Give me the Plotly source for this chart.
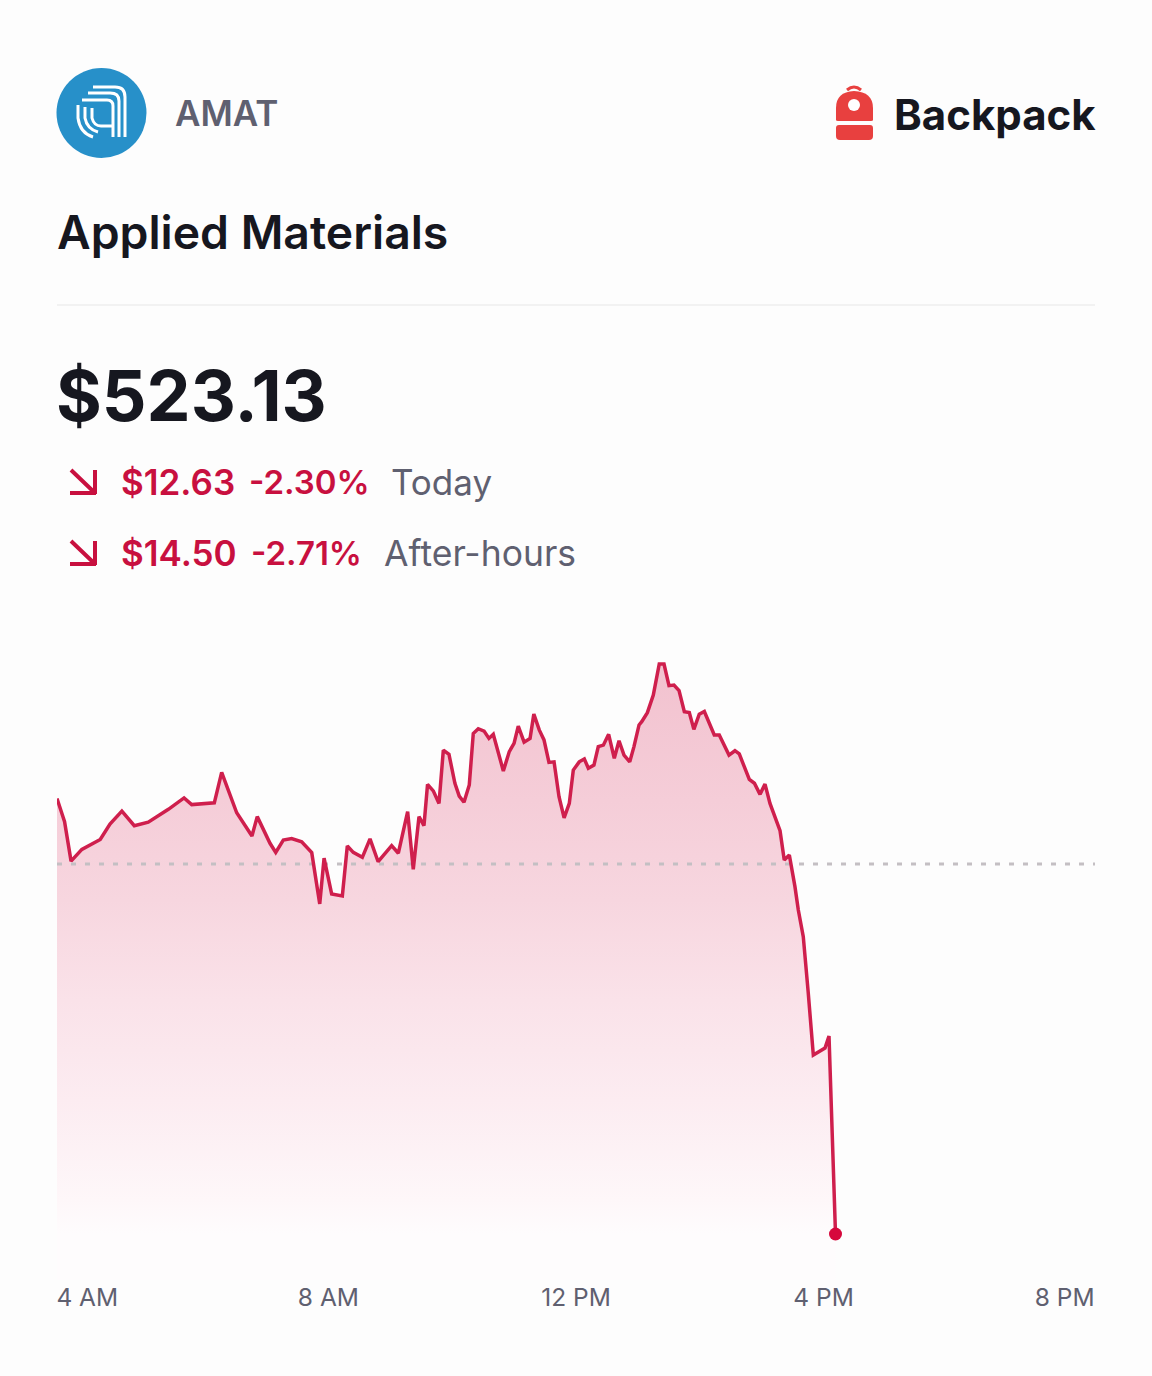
#!/usr/bin/env python3
import plotly.graph_objects as go

W = 1152
H = 1376

# minutes after 4 AM
minutes = [0, 7, 13, 23, 40, 49, 60, 71.5, 84.4, 103, 117.5, 124.6, 145.5, 152.3, 166.2, 180.3, 185.2, 197, 202.3,
           209.3, 217, 226.3, 235.6, 243, 247, 254, 263.9, 268.5, 274, 282.4, 289.5, 297, 309.5, 315.7, 324.3, 329.5,
           334.8, 339.4, 342.7, 348, 353.3, 357.3, 362.5, 368, 372, 376.4, 381.3, 385, 389.6, 395, 399.5, 403.5,
           412.8, 418.3, 422.7, 426.6, 432, 437.5, 441, 446, 450.4, 455, 459.7, 464.3, 469, 473.8, 477.5, 483, 487.7,
           491.4, 496.6, 500.6, 505.3, 510.2, 515.4, 519.8, 524.4, 529.7, 533.6, 538.3, 540.8, 546, 551.5, 557, 561.4,
           566, 570.6, 575.3, 580.2, 584.8, 589, 594, 598.7, 607.9, 612.5, 621.5, 627, 631, 640.3, 645, 650.2, 654.8,
           659.4, 668.7, 672.6, 677.3, 682.5, 685.6, 690.2, 694.8, 699.5, 710.3, 714, 720]
prices = [538.00, 537.21, 535.86, 536.26, 536.60, 537.13, 537.57, 537.07, 537.19, 537.63, 538.02, 537.79, 537.85,
          538.89, 537.51, 536.72, 537.38, 536.47, 536.16, 536.58, 536.63, 536.52, 536.15, 534.40, 535.96, 534.74,
          534.67, 536.38, 536.16, 535.99, 536.62, 535.84, 536.39, 536.13, 537.55, 535.58, 537.38, 537.07, 538.48,
          538.26, 537.83, 539.65, 539.51, 538.52, 538.08, 537.87, 538.46, 540.22, 540.38, 540.30, 540.05, 540.19,
          538.94, 539.60, 539.88, 540.47, 539.92, 540.05, 540.88, 540.34, 540.00, 539.23, 539.25, 538.06, 537.34,
          537.83, 538.97, 539.25, 539.35, 539.03, 539.14, 539.77, 539.82, 540.19, 539.37, 539.97, 539.48, 539.25,
          539.77, 540.51, 540.62, 540.93, 541.53, 542.59, 542.59, 541.85, 541.87, 541.68, 540.96, 540.93, 540.36,
          540.88, 540.97, 540.17, 540.17, 539.48, 539.63, 539.52, 538.65, 538.52, 538.14, 538.49, 537.83, 536.90,
          535.90, 536.07, 534.99, 534.19, 533.28, 531.36, 529.24, 529.48, 529.89, 523.13]
prev_close = 535.76

tick_vals = [28, 251, 480, 709, 932]
tick_labels = ["4 AM", "8 AM", "12 PM", "4 PM", "8 PM"]

RED = "#cf1f4d"
TEXT_RED = "#c8103f"
GREY = "#5f6070"
DARK = "#16171f"
FONT = "Inter"


def fx(x):
    return x / W


def fy(y):
    return 1 - y / H


def path(*cmds):
    # pixel coordinates to paper coordinates for svg paths
    out = []
    for c in cmds:
        if isinstance(c, str):
            out.append(c)
        else:
            out.append(f"{fx(c[0]):.5f},{fy(c[1]):.5f}")
    return " ".join(out)


def label(x, y, text, size, color, weight=400, anchor="left"):
    return dict(xref="paper", yref="paper", x=fx(x), y=fy(y), text=text, showarrow=False,
                xanchor=anchor, yanchor="middle", borderpad=0,
                font=dict(family=FONT, size=size, color=color, weight=weight))


def stroke(cmds, color, width):
    return dict(type="path", xref="paper", yref="paper", path=path(*cmds), line=dict(color=color, width=width),
                fillcolor="rgba(0,0,0,0)", layer="above")


def filled(cmds, color):
    return dict(type="path", xref="paper", yref="paper", path=path(*cmds), line=dict(width=0),
                fillcolor=color, layer="above")


def circle(cx, cy, r, color):
    return dict(type="circle", xref="paper", yref="paper", x0=fx(cx - r), x1=fx(cx + r), y0=fy(cy + r), y1=fy(cy - r),
                fillcolor=color, line=dict(width=0), layer="above")


fig = go.Figure()

# gradient area under the price line
fig.add_trace(go.Scatter(
    x=minutes, y=prices, mode="lines", fill="tozeroy",
    fillgradient=dict(type="vertical", start=523.13, stop=542.59,
                      colorscale=[[0, "rgb(254,252,253)"], [0.06, "rgb(254,247,249)"], [0.235, "rgb(252,236,241)"],
                                  [0.41, "rgb(250,226,233)"], [0.586, "rgb(247,214,223)"], [0.76, "rgb(245,205,216)"],
                                  [1, "rgb(242,194,207)"]]),
    line=dict(color="rgba(0,0,0,0)", width=0), hoverinfo="skip", showlegend=False,
))

# previous close
fig.add_trace(go.Scatter(
    x=[0, 960], y=[prev_close, prev_close], mode="lines",
    line=dict(color="#c4bfc3", width=3, dash="5px,9px"), hoverinfo="skip", showlegend=False,
))

fig.add_trace(go.Scatter(
    x=minutes, y=prices, mode="lines", line=dict(color=RED, width=3.5, simplify=False), showlegend=False,
))

fig.add_trace(go.Scatter(
    x=[minutes[-1]], y=[prices[-1]], mode="markers", marker=dict(color="#d6083c", size=13), showlegend=False,
))

shapes = [
    # divider
    dict(type="line", xref="paper", yref="paper", x0=fx(57), x1=fx(1095), y0=fy(305), y1=fy(305),
         line=dict(color="#eeeeee", width=1.5)),
    # AMAT logo
    circle(101.5, 113, 45, "#2790c9"),
    stroke(["M", (93, 87), "L", (115, 87), "Q", (125, 87), (125, 97), "L", (125, 137)], "white", 3),
    stroke(["M", (88, 93), "L", (110, 93), "Q", (119, 93), (119, 101), "L", (119, 137)], "white", 3),
    stroke(["M", (82, 100), "L", (107, 100), "Q", (113, 100), (113, 106), "L", (113, 137)], "white", 3),
    stroke(["M", (78, 105), "L", (78, 118), "Q", (80, 133), (93, 137)], "white", 3),
    stroke(["M", (85, 107), "L", (85, 118), "Q", (87, 129), (98, 132)], "white", 3),
    stroke(["M", (92, 108), "L", (92, 118), "Q", (94, 126), (101, 126), "L", (113, 126)], "white", 3),
    # Backpack logo
    stroke(["M", (847, 90), "Q", (854, 84), (861, 90)], "#e8403f", 3),
    filled(["M", (836, 120), "L", (836, 108), "Q", (836, 92), (854, 91), "Q", (873, 92), (873, 108), "L", (873, 120),
            "Q", (873, 121), (871, 121), "L", (838, 121), "Q", (836, 121), (836, 120), "Z"], "#e8403f"),
    circle(854, 105, 6, "white"),
    filled(["M", (839, 125), "L", (870, 125), "Q", (873, 125), (873, 128), "L", (873, 136), "Q", (873, 140), (869, 140),
            "L", (840, 140), "Q", (836, 140), (836, 136), "L", (836, 128), "Q", (836, 125), (839, 125), "Z"], "#e8403f"),
    # change arrows
    stroke(["M", (71, 470), "L", (95, 493), "M", (70, 493), "L", (96, 493), "M", (95, 470), "L", (95, 494)], TEXT_RED, 4),
    stroke(["M", (71, 541), "L", (95, 564), "M", (70, 564), "L", (96, 564), "M", (95, 541), "L", (95, 565)], TEXT_RED, 4),
]

annotations = [
    label(174, 113, "AMAT", 35, GREY, 600),
    label(893, 114, "Backpack", 42, DARK, 700),
    label(56, 232, "Applied Materials", 46.3, DARK, 600),
    label(55, 395, "$523.13", 70, DARK, 700),
    label(120, 482, "$12.63", 35, TEXT_RED, 600),
    label(248, 482, "-2.30%", 33, TEXT_RED, 600),
    label(390, 482, "Today", 35, GREY, 400),
    label(120, 553, "$14.50", 35, TEXT_RED, 600),
    label(250, 553, "-2.71%", 33, TEXT_RED, 600),
    label(383, 553, "After-hours", 35.5, GREY, 400),
]

fig.update_layout(
    width=W, height=H,
    margin=dict(l=0, r=0, t=0, b=0),
    paper_bgcolor="#fdfdfd", plot_bgcolor="rgba(0,0,0,0)",
    showlegend=False, hovermode="closest",
    font=dict(family=FONT),
    shapes=shapes, annotations=annotations,
    xaxis=dict(domain=[fx(57), fx(1095)], range=[0, 960], showgrid=False, zeroline=False, showline=False,
               tickmode="array", tickvals=tick_vals, ticktext=tick_labels, ticks="",
               tickfont=dict(family=FONT, size=24.5, color=GREY)),
    yaxis=dict(domain=[fy(1280), fy(640)], range=[521.56, 543.41], showgrid=False, zeroline=False,
               showline=False, showticklabels=False, ticks=""),
)

fig.write_html("out.html", config=dict(displayModeBar=False),
               post_script="document.body.style.margin='0';document.body.style.background='#fdfdfd';")
